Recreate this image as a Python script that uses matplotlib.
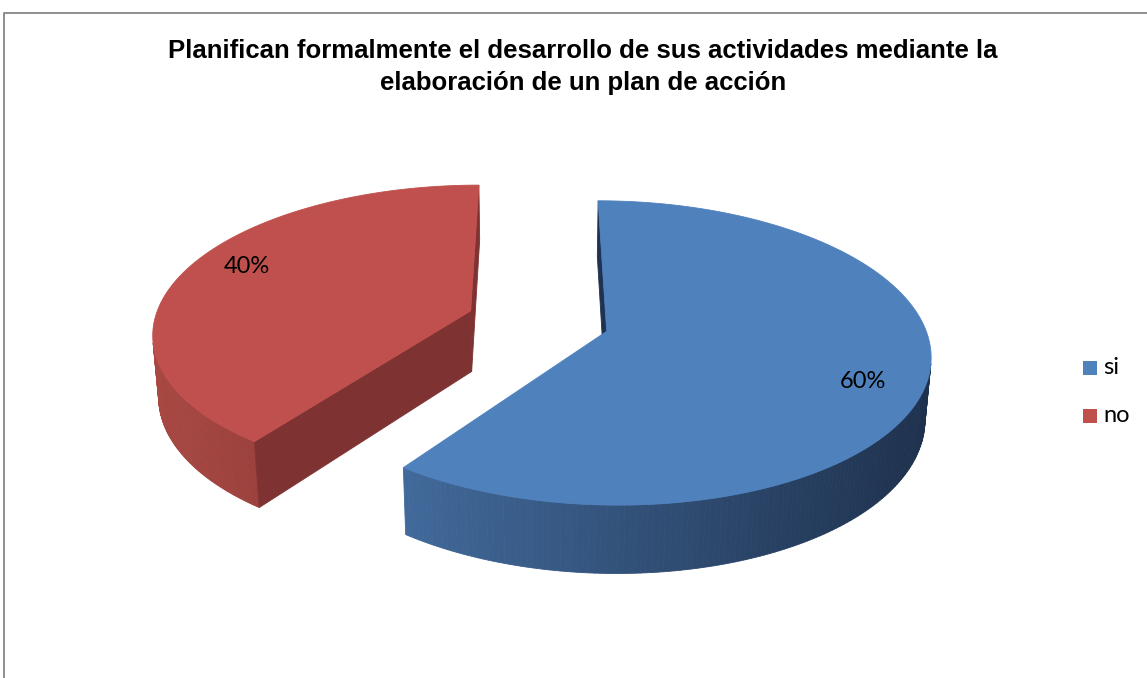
import numpy as np
import matplotlib.pyplot as plt
from matplotlib.colors import to_rgb
from matplotlib.patches import Polygon, Rectangle

# datos del gráfico
categorias = ['si', 'no']
valores = [60, 40]
etiquetas = ['60%', '40%']
titulo_1 = 'Planifican formalmente el desarrollo de sus actividades mediante la'
titulo_2 = 'elaboración de un plan de acción'

# estilos
col_sup = ['#4F81BD', '#C0504D']
col_lado_izq = ['#41699A', '#A84843']
col_lado_der = ['#1E314D', '#9C413D']
col_radial = ['#1F3350', '#7F3232']

W, H = 1147, 678
fig = plt.figure(figsize=(W / 100, H / 100), dpi=100)
ax = fig.add_axes([0, 0, 1, 1])
ax.set_xlim(0, W)
ax.set_ylim(H, 0)
ax.axis('off')

# proyección en perspectiva simple
elev = np.radians(26.9)
D = 6.33
fv = 2045.0
fh = 2003.0
cx, cy = 538.0, 321.0
alto = 0.215
expl = 0.226
cam = np.array([0.0, -D * np.cos(elev), D * np.sin(elev)])


def proj(X, Y, Z):
    v = Y * np.sin(elev) + Z * np.cos(elev)
    w = D + Y * np.cos(elev) - Z * np.sin(elev)
    return cx + fh * X / w, cy - fv * v / w


def visible(p, n):
    return np.dot(n, cam - p) > 0


total = sum(valores)
ini = 90.0
porciones = []
for i, v in enumerate(valores):
    a0 = ini
    a1 = ini - 360.0 * v / total
    ini = a1
    am = np.radians((a0 + a1) / 2)
    ox, oy = expl * np.cos(am), expl * np.sin(am)
    porciones.append((i, np.radians(a0), np.radians(a1), ox, oy, am))

# dibujar primero las porciones del fondo
porciones.sort(key=lambda s: -s[4])

for i, a0, a1, ox, oy, am in porciones:
    th = np.linspace(a0, a1, 240)
    # cara lateral exterior con degradado
    quads = []
    for j in range(len(th) - 1):
        tm = (th[j] + th[j + 1]) / 2
        p = np.array([ox + np.cos(tm), oy + np.sin(tm), -alto / 2])
        n = np.array([np.cos(tm), np.sin(tm), 0.0])
        if not visible(p, n):
            continue
        pts = []
        for t, z in ((th[j], 0), (th[j + 1], 0), (th[j + 1], -alto), (th[j], -alto)):
            pts.append(proj(ox + np.cos(t), oy + np.sin(t), z))
        quads.append(np.array(pts))
    if quads:
        xs = [q[:, 0].mean() for q in quads]
        xmin, xmax = min(xs), max(xs)
        c0, c1 = np.array(to_rgb(col_lado_izq[i])), np.array(to_rgb(col_lado_der[i]))
        for q, xm in zip(quads, xs):
            f = (xm - xmin) / (xmax - xmin) if xmax > xmin else 0
            c = c0 + (c1 - c0) * f
            ax.add_patch(Polygon(q, closed=True, fc=c, ec=c, lw=0.6))
    # caras radiales
    for a, sgn in ((a0, 1), (a1, -1)):
        n = np.array([np.cos(a + sgn * np.pi / 2), np.sin(a + sgn * np.pi / 2), 0.0])
        p = np.array([ox, oy, -alto / 2])
        if not visible(p, n):
            continue
        pts = [proj(ox, oy, 0), proj(ox + np.cos(a), oy + np.sin(a), 0),
               proj(ox + np.cos(a), oy + np.sin(a), -alto), proj(ox, oy, -alto)]
        ax.add_patch(Polygon(pts, closed=True, fc=col_radial[i], ec=col_radial[i], lw=0.6))
    # cara superior
    pts = [proj(ox, oy, 0)] + [proj(ox + np.cos(t), oy + np.sin(t), 0) for t in th]
    ax.add_patch(Polygon(pts, closed=True, fc=col_sup[i], ec=col_sup[i], lw=0.6))
    # etiqueta
    r, da = 0.82, np.radians(-5)
    lx, ly = proj(ox + r * np.cos(am + da), oy + r * np.sin(am + da), 0)
    ax.text(lx, ly, etiquetas[i], ha='center', va='center', fontsize=17,
            family='Lato', color='black')

# título
ax.text(583, 51, titulo_1, ha='center', va='center', fontsize=18.5, fontweight='bold',
        family='Liberation Sans')
ax.text(583, 83, titulo_2, ha='center', va='center', fontsize=18.5, fontweight='bold',
        family='Liberation Sans')

# leyenda
for i, cat in enumerate(categorias):
    y = 368 + 48 * i
    ax.add_patch(Rectangle((1083, y - 7), 14, 14, fc=col_sup[i], ec='none'))
    ax.text(1103, y, cat, ha='left', va='center', fontsize=17, family='Lato')

# borde del área del gráfico
ax.plot([3.5, 3.5, W], [H, 12.5, 12.5], color='#868686', lw=1.3)

fig.savefig('out.png', dpi=100)
